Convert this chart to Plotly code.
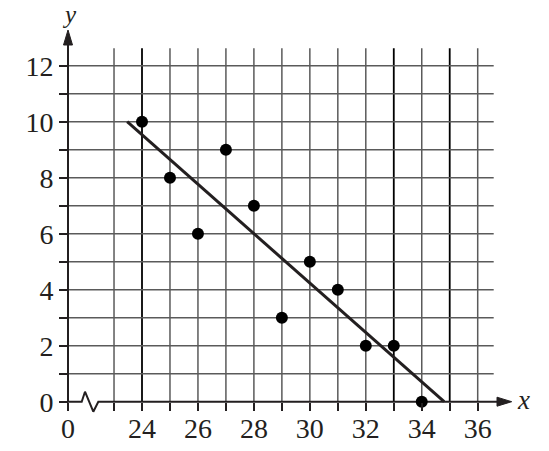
import plotly.graph_objects as go

# ---- data ----
x_vals = [24, 25, 26, 27, 28, 29, 30, 31, 32, 33, 34]
y_vals = [10, 8, 6, 9, 7, 3, 5, 4, 2, 2, 0]
fit_x = [23.47, 34.8]
fit_y = [10, 0]
x_tick_vals = [23, 24, 25, 26, 27, 28, 29, 30, 31, 32, 33, 34, 35, 36]
x_tick_text = ["", "24", "", "26", "", "28", "", "30", "", "32", "", "34", "", "36"]
y_tick_vals = list(range(0, 13))
y_tick_text = ["0", "", "2", "", "4", "", "6", "", "8", "", "10", "", "12"]
heavy_x = [24, 33, 35]

W, H = 549, 451
ux = 27.975  # px per x unit
uy = 28.0    # px per y unit
x_lo = 24 - 142 / ux
x_hi = 24 + (W - 142) / ux
y_lo = -(H - 401.7) / uy
y_hi = 401.7 / uy

x_origin = 24 - 74 / ux  # where the broken axis's "0" sits
grid_right = 24 + 351.7 / ux
grid_top = (401.7 - 48.3) / uy

INK = "#231f20"
GRID = "#5a5a5a"
FONT = "Liberation Serif, 'Times New Roman', serif"

fig = go.Figure()

shapes = []
# vertical grid lines
for xv in x_tick_vals:
    heavy = xv in heavy_x
    shapes.append(dict(type="line", xref="x", yref="y", x0=xv, x1=xv, y0=0, y1=grid_top,
                       line=dict(color="#000" if heavy else GRID, width=1.8 if heavy else 1.5),
                       layer="below"))
# horizontal grid lines
for yv in y_tick_vals[1:]:
    shapes.append(dict(type="line", xref="x", yref="y", x0=x_origin, x1=grid_right, y0=yv, y1=yv,
                       line=dict(color=GRID, width=1.5), layer="below"))
# y axis line
y_arrow_base = (401.7 - 45) / uy
y_arrow_tip = (401.7 - 30) / uy
shapes.append(dict(type="line", xref="x", yref="y", x0=x_origin, x1=x_origin, y0=0, y1=y_arrow_base,
                   line=dict(color=INK, width=2)))
hw_x = 4.5 / ux
shapes.append(dict(type="path", xref="x", yref="y",
                   path=f"M {x_origin - hw_x},{y_arrow_base} L {x_origin},{y_arrow_tip} L {x_origin + hw_x},{y_arrow_base} Z",
                   fillcolor=INK, line=dict(color=INK, width=1)))
# x axis arrow
x_arrow_base = 24 + 355 / ux
x_arrow_tip = 24 + 369.7 / ux
hw_y = 4.5 / uy
shapes.append(dict(type="path", xref="x", yref="y",
                   path=f"M {x_arrow_base},{hw_y} L {x_arrow_tip},0 L {x_arrow_base},{-hw_y} Z",
                   fillcolor=INK, line=dict(color=INK, width=1)))

# x axis with break symbol
bx = [x_origin, 24 - 60.3 / ux, 24 - 57 / ux, 24 - 48.7 / ux, 24 - 43.7 / ux, x_arrow_base]
by = [0, 0, 10 / uy, -10 / uy, 0, 0]
fig.add_trace(go.Scatter(x=bx, y=by, mode="lines", line=dict(color=INK, width=2),
                         hoverinfo="skip", showlegend=False))

# fitted line
fig.add_trace(go.Scatter(x=fit_x, y=fit_y, mode="lines", line=dict(color=INK, width=3),
                         showlegend=False))
# data points
fig.add_trace(go.Scatter(x=x_vals, y=y_vals, mode="markers",
                         marker=dict(color="#000", size=12), showlegend=False))

annotations = [
    dict(x=x_origin + 1 / ux, y=(401.7 - 14) / uy, xref="x", yref="y", text="<i>y</i>",
         showarrow=False, font=dict(family=FONT, size=25, color=INK)),
    dict(x=24 + 381 / ux, y=0.05, xref="x", yref="y", text="<i>x</i>",
         showarrow=False, font=dict(family=FONT, size=27, color=INK)),
]

fig.update_layout(
    width=W, height=H,
    margin=dict(l=0, r=0, t=0, b=0),
    paper_bgcolor="white", plot_bgcolor="white",
    showlegend=False,
    shapes=shapes,
    annotations=annotations,
    xaxis=dict(range=[x_lo, x_hi], anchor="free", position=(H - 401.7) / H,
               tickmode="array", tickvals=[x_origin] + x_tick_vals, ticktext=["0"] + x_tick_text,
               ticks="outside", ticklen=8, tickwidth=1.5, tickcolor=INK,
               showgrid=False, zeroline=False, showline=False,
               tickfont=dict(family=FONT, size=28, color=INK), ticklabelstandoff=-6),
    yaxis=dict(range=[y_lo, y_hi], anchor="free", position=68 / W,
               tickmode="array", tickvals=y_tick_vals, ticktext=y_tick_text,
               ticks="outside", ticklen=9, tickwidth=1.5, tickcolor=INK,
               showgrid=False, zeroline=False, showline=False,
               tickfont=dict(family=FONT, size=28, color=INK), ticklabelstandoff=0),
)

fig.write_html("out.html", post_script="document.body.style.margin='0';",
               config={"displayModeBar": False})
